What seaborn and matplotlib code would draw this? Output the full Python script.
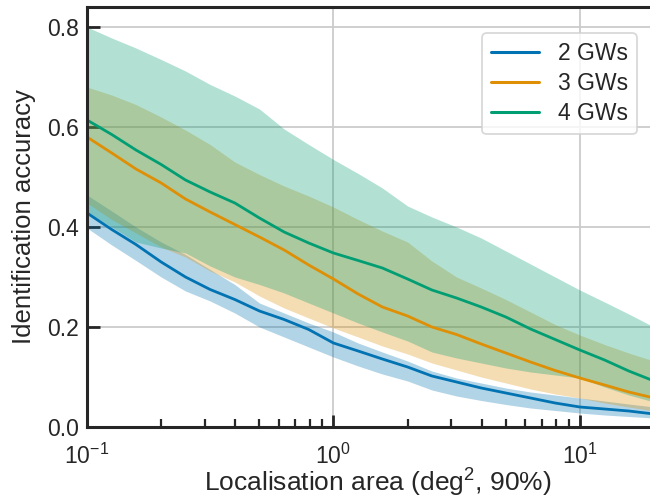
import numpy as np
import pandas as pd
import matplotlib
matplotlib.use("Agg")
import matplotlib.pyplot as plt
import seaborn as sns

# Localisation area (deg^2, 90%)
area = [0.1, 0.126, 0.158, 0.2, 0.251, 0.316, 0.398, 0.501, 0.631, 0.794,
        1.0, 1.26, 1.58, 2.0, 2.51, 3.16, 3.98, 5.01, 6.31, 7.94,
        10.0, 12.6, 15.8, 20.0]

series_names = ["2 GWs", "3 GWs", "4 GWs"]

acc_2 = [0.428, 0.395, 0.365, 0.330, 0.300, 0.275, 0.255, 0.232, 0.215, 0.195,
         0.168, 0.152, 0.136, 0.120, 0.102, 0.090, 0.078, 0.068, 0.058, 0.048,
         0.040, 0.036, 0.032, 0.026]
lo_2 = [0.398, 0.364, 0.333, 0.300, 0.272, 0.252, 0.228, 0.200, 0.180, 0.160,
        0.140, 0.122, 0.106, 0.092, 0.074, 0.062, 0.053, 0.045, 0.038, 0.033,
        0.028, 0.024, 0.021, 0.018]
hi_2 = [0.464, 0.432, 0.400, 0.370, 0.345, 0.315, 0.285, 0.248, 0.228, 0.208,
        0.190, 0.168, 0.150, 0.132, 0.112, 0.098, 0.088, 0.078, 0.070, 0.064,
        0.058, 0.052, 0.046, 0.040]

acc_3 = [0.580, 0.548, 0.516, 0.488, 0.456, 0.430, 0.405, 0.380, 0.354, 0.324,
         0.296, 0.266, 0.240, 0.222, 0.200, 0.185, 0.166, 0.148, 0.130, 0.113,
         0.098, 0.084, 0.070, 0.058]
lo_3 = [0.448, 0.415, 0.388, 0.360, 0.340, 0.312, 0.290, 0.262, 0.238, 0.218,
        0.198, 0.180, 0.162, 0.146, 0.128, 0.114, 0.100, 0.088, 0.076, 0.066,
        0.058, 0.048, 0.040, 0.032]
hi_3 = [0.680, 0.664, 0.645, 0.620, 0.594, 0.565, 0.530, 0.505, 0.482, 0.462,
        0.440, 0.415, 0.392, 0.370, 0.332, 0.300, 0.278, 0.255, 0.230, 0.205,
        0.184, 0.165, 0.148, 0.132]

acc_4 = [0.614, 0.585, 0.554, 0.525, 0.494, 0.470, 0.448, 0.418, 0.390, 0.368,
         0.348, 0.333, 0.318, 0.296, 0.274, 0.258, 0.240, 0.220, 0.196, 0.175,
         0.154, 0.134, 0.112, 0.092]
lo_4 = [0.430, 0.400, 0.370, 0.358, 0.348, 0.322, 0.300, 0.285, 0.268, 0.248,
        0.228, 0.208, 0.190, 0.172, 0.150, 0.138, 0.128, 0.118, 0.110, 0.104,
        0.098, 0.080, 0.064, 0.050]
hi_4 = [0.800, 0.778, 0.758, 0.735, 0.712, 0.685, 0.662, 0.636, 0.596, 0.565,
        0.535, 0.507, 0.478, 0.442, 0.420, 0.400, 0.378, 0.352, 0.326, 0.300,
        0.274, 0.250, 0.226, 0.200]

sns.set_theme(style="ticks")
plt.rcParams["font.family"] = ["Liberation Sans", "DejaVu Sans"]
plt.rcParams["mathtext.fontset"] = "custom"
plt.rcParams["mathtext.rm"] = "Liberation Sans"
plt.rcParams["mathtext.it"] = "Liberation Sans:italic"
plt.rcParams["mathtext.bf"] = "Liberation Sans:bold"

palette = sns.color_palette("colorblind", 3)

df = pd.DataFrame({
    "area": area * 3,
    "acc": acc_2 + acc_3 + acc_4,
    "series": [series_names[0]] * len(area) + [series_names[1]] * len(area)
              + [series_names[2]] * len(area),
})

fig = plt.figure(figsize=(6.5, 5), dpi=100)
ax = fig.add_axes([87 / 650, 73 / 500, 567 / 650, 420 / 500])

for lo, hi, c in zip([lo_2, lo_3, lo_4], [hi_2, hi_3, hi_4], palette):
    ax.fill_between(area, lo, hi, color=c, alpha=0.3, linewidth=0)

sns.lineplot(data=df, x="area", y="acc", hue="series", palette=palette,
             linewidth=2.0, ax=ax)

ax.set_xscale("log")
ax.set_xlim(0.1, 20)
ax.set_ylim(0, 0.84)
ax.set_yticks([0.0, 0.2, 0.4, 0.6, 0.8])
ax.set_yticklabels(["0.0", "0.2", "0.4", "0.6", "0.8"])

ax.grid(True, which="major", color="#cccccc", linewidth=1.3)
ax.set_axisbelow(True)

for s in ax.spines.values():
    s.set_linewidth(2.2)
    s.set_color("#262626")

ax.tick_params(axis="both", which="major", direction="in", length=9, width=2.0,
               labelsize=16.5, color="#262626", labelcolor="#262626", pad=6)
ax.tick_params(axis="x", which="major", pad=12)
ax.tick_params(axis="x", which="minor", direction="in", length=5.5, width=1.6,
               color="#262626")
ax.tick_params(axis="y", which="minor", left=False)

ax.set_xlabel("Localisation area (deg$^2$, 90%)", fontsize=19, color="#262626")
ax.xaxis.set_label_coords(0.5 + 7 / 567, -40 / 420)
ax.set_ylabel("Identification accuracy", fontsize=18.5, color="#262626",
              labelpad=8)

leg = ax.legend(loc="upper right", fontsize=16.5, frameon=True,
                bbox_to_anchor=(0.99, 0.965), borderpad=0.4,
                handlelength=2.1, handletextpad=0.8, labelspacing=0.3)
leg.get_frame().set_edgecolor("#d0d0d0")
leg.get_frame().set_linewidth(1.3)
for line in leg.get_lines():
    line.set_linewidth(2.2)

fig.savefig("out.png", dpi=100)
